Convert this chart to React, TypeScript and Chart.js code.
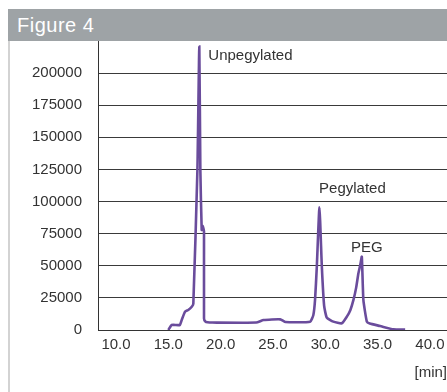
import React, { useEffect, useRef } from "react";
import { Chart, registerables } from "chart.js";

Chart.register(...registerables);

// Retention time [min]
const times = [
  15.0, 15.32, 16.1, 16.28, 16.6, 16.9, 17.24, 17.39, 17.78, 17.96, 18.06, 18.19, 18.29, 18.41, 18.41, 18.55, 18.75,
  19.2, 23.4, 24.1, 25.7, 26.2, 28.55, 28.86, 29.02, 29.19, 29.44, 29.67, 29.89, 30.14, 30.77, 31.58, 32.06, 32.4,
  32.69, 32.95, 33.16, 33.35, 33.49, 33.64, 33.97, 34.25, 35.24, 36.5, 37.63,
];
// Detector signal
const signal = [
  0, 3900, 3900, 7800, 14300, 15600, 18100, 20400, 124600, 220700, 124600, 77900, 81000, 76600, 9000, 6500, 6000,
  5800, 5800, 7800, 8300, 6200, 6500, 11700, 23400, 49300, 95500, 49300, 18700, 9700, 6500, 5200, 10400, 15600,
  23400, 33000, 44000, 51000, 57100, 23400, 6500, 5000, 3100, 500, 300,
];

const xTickValues = [10, 15, 20, 25, 30, 35, 40];
const yTickValues = [0, 25000, 50000, 75000, 100000, 125000, 150000, 175000, 200000];

const peakLabels = ["Unpegylated", "Pegylated", "PEG"];
const peakTimes = [17.96, 29.44, 33.49];
const peakValues = [220700, 95500, 57100];

const FONT = '"Liberation Sans", Arial, Helvetica, sans-serif';

export default function App() {
  const ref = useRef<HTMLCanvasElement>(null);

  useEffect(() => {
    document.body.style.margin = "0";
    const labelPlugin = {
      id: "peakLabels",
      afterDatasetsDraw(chart: any) {
        const { ctx, scales } = chart;
        const offsets: [number, number, CanvasTextAlign][] = [
          [9, 13, "left"],
          [33, -14, "center"],
          [5, -4.5, "center"],
        ];
        ctx.save();
        ctx.font = `15px ${FONT}`;
        ctx.fillStyle = "#333";
        ctx.textBaseline = "alphabetic";
        peakLabels.forEach((t, i) => {
          const px = scales.x.getPixelForValue(peakTimes[i]);
          const py = scales.y.getPixelForValue(peakValues[i]);
          ctx.textAlign = offsets[i][2];
          ctx.fillText(t, px + offsets[i][0], py + offsets[i][1]);
        });
        ctx.restore();
      },
    };

    const chart = new Chart(ref.current as HTMLCanvasElement, {
      type: "line",
      data: {
        datasets: [
          {
            data: times.map((t, i) => ({ x: t, y: signal[i] })),
            borderColor: "#6a4c9c",
            borderWidth: 2.6,
            pointRadius: 0,
            tension: 0.15,
            fill: false,
          },
        ],
      },
      options: {
        animation: false,
        responsive: false,
        layout: { padding: 0 },
        plugins: { legend: { display: false }, tooltip: { enabled: false } },
        scales: {
          x: {
            type: "linear",
            min: 8.28,
            max: 41.63,
            afterBuildTicks: (s: any) => {
              s.ticks = xTickValues.map((v) => ({ value: v }));
            },
            afterFit: (s: any) => {
              s.height = 62;
              s.paddingLeft = 0;
              s.paddingRight = 0;
            },
            grid: { display: false, drawTicks: false },
            border: { display: true, color: "#333", width: 1 },
            ticks: {
              padding: 6,
              color: "#333",
              font: { family: FONT, size: 15 },
              maxRotation: 0,
              callback: (v: any) => Number(v).toFixed(1),
            },
            title: {
              display: true,
              text: "[min]",
              align: "end",
              color: "#333",
              font: { family: FONT, size: 15 },
              padding: { top: 0, bottom: 10 },
            },
          },
          y: {
            min: 0,
            max: 225000,
            afterBuildTicks: (s: any) => {
              s.ticks = yTickValues.map((v) => ({ value: v }));
            },
            afterFit: (s: any) => {
              s.width = 88;
              s.paddingTop = 0;
              s.paddingBottom = 0;
            },
            grid: { color: "#3a3a3a", lineWidth: 1, drawTicks: false },
            border: { display: true, color: "#333", width: 1 },
            ticks: {
              padding: 16,
              color: "#333",
              font: { family: FONT, size: 15 },
              callback: (v: any) => String(v),
            },
          },
        },
      },
      plugins: [labelPlugin],
    });
    return () => chart.destroy();
  }, []);

  return (
    <div style={{ position: "relative", width: 447, height: 392, overflow: "hidden", background: "#fff" }}>
      <div
        style={{
          position: "absolute",
          left: 8,
          top: 9,
          width: 439,
          height: 32,
          background: "#9ea3a6",
          color: "#fff",
          fontFamily: FONT,
          fontSize: 20,
          lineHeight: "32px",
          letterSpacing: 0.5,
          paddingLeft: 9,
          boxSizing: "border-box",
        }}
      >
        Figure 4
      </div>
      <div style={{ position: "absolute", left: 8, top: 41, width: 2, height: 351, background: "#d3d3d3" }} />
      <div style={{ position: "absolute", left: 10, top: 41, width: 437, height: 351 }}>
        <canvas ref={ref} width={437} height={351} style={{ width: 437, height: 351, display: "block" }} />
      </div>
    </div>
  );
}
